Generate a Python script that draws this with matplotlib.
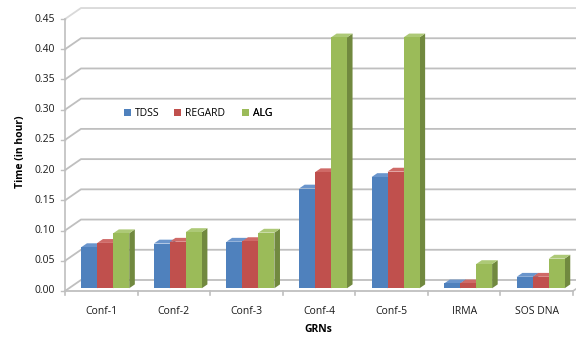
"""Run time per GRN configuration, drawn as Excel-style 3D clustered columns."""

import matplotlib

matplotlib.use("Agg")
import matplotlib.pyplot as plt
import numpy as np
from matplotlib.patches import Patch, Polygon

CATEGORIES = ["Conf-1", "Conf-2", "Conf-3", "Conf-4", "Conf-5", "IRMA", "SOS DNA"]
TDSS = [0.068, 0.074, 0.077, 0.165, 0.184, 0.008, 0.019]
REGARD = [0.075, 0.077, 0.078, 0.192, 0.193, 0.008, 0.019]
ALG = [0.091, 0.093, 0.092, 0.415, 0.415, 0.040, 0.049]
Y_TICKS = [0.00, 0.05, 0.10, 0.15, 0.20, 0.25, 0.30, 0.35, 0.40, 0.45]

SERIES = [
    ("TDSS", TDSS, "#4f81bd", "#6a95cc", "#385d8a"),
    ("REGARD", REGARD, "#c0504d", "#cf6a67", "#8c3836"),
    ("ALG", ALG, "#9bbb59", "#adc977", "#71893f"),
]
# left edge of each legend entry, in axes fraction
LEGEND_X = [0.1324, 0.2284, 0.359]

FONT = "Open Sans"
FS = 7.5

# oblique projection: a point at depth d (0 front .. 1 back) shifts by d*(DX, DY)
DX = 0.22
DY = 0.0182
BAR_FRONT = 0.25
BAR_BACK = 0.6
BAR_W = 0.22
GRID = "#bfbfbf"


def proj(x, y, d):
    return (x + d * DX, y + d * DY)


fig = plt.figure(figsize=(5.76, 3.37), dpi=100)
ax = fig.add_axes([55 / 576, 37 / 337, 521 / 576, 295 / 337])
ax.set_xlim(-0.638, 6.541)
ax.set_ylim(-0.0149, 0.4732)
ax.axis("off")

n = len(CATEGORIES)
x_left, x_right = -0.5, n - 0.5

# walls: gridlines run across the side wall then along the back wall
for v in Y_TICKS:
    color = "#d9d9d9" if v == Y_TICKS[-1] else GRID
    pts = [proj(x_left, v, 0), proj(x_left, v, 1), proj(x_right + 0.3, v, 1)]
    ax.plot(*zip(*pts), color=color, lw=1.3, clip_on=False, zorder=1)
    ax.plot([x_left - 0.05, x_left], [v, v], color=GRID, lw=1.0, zorder=1)
    ax.text(x_left - 0.14, v, f"{v:.2f}", ha="right", va="center",
            fontsize=FS, family=FONT, color="#1a1a1a")

# side wall front edge and floor
ax.plot([x_left, x_left], [0, Y_TICKS[-1]], color=GRID, lw=1.2, zorder=1)
ax.plot([x_left, x_right], [0, 0], color=GRID, lw=1.3, zorder=1)
ax.plot(*zip(proj(x_right, 0, 0), proj(x_right, 0, 1)), color=GRID, lw=1.2,
        clip_on=False, zorder=1)
for b in np.arange(n + 1) - 0.5:
    ax.plot([b, b], [0, -0.0066], color=GRID, lw=1.2, zorder=1)

x = np.arange(n)
offsets = [-BAR_W, 0.0, BAR_W]
z = 2
for (name, vals, front, top, side), off in zip(SERIES, offsets):
    xs = x + off + BAR_FRONT * DX
    ax.bar(xs, vals, BAR_W, bottom=BAR_FRONT * DY, color=front, lw=0, zorder=z + 2)
    for xc, v in zip(x + off, vals):
        xl, xr = xc - BAR_W / 2, xc + BAR_W / 2
        side_poly = [proj(xr, 0, BAR_FRONT), proj(xr, v, BAR_FRONT),
                     proj(xr, v, BAR_BACK), proj(xr, 0, BAR_BACK)]
        top_poly = [proj(xl, v, BAR_FRONT), proj(xr, v, BAR_FRONT),
                    proj(xr, v, BAR_BACK), proj(xl, v, BAR_BACK)]
        ax.add_patch(Polygon(side_poly, closed=True, facecolor=side, lw=0, zorder=z))
        ax.add_patch(Polygon(top_poly, closed=True, facecolor=top, lw=0, zorder=z + 1))
    z += 3

for i, label in enumerate(CATEGORIES):
    ax.text(i, -0.0347, label, ha="center", va="center", fontsize=FS,
            family=FONT, color="#1a1a1a")

# one legend per entry so each can sit at its own spot
for (name, _, front, _, _), lx in zip(SERIES, LEGEND_X):
    leg = ax.legend(handles=[Patch(facecolor=front, edgecolor="none", label=name)],
                    loc="center left", bbox_to_anchor=(lx, 0.632), frameon=False,
                    borderpad=0, borderaxespad=0, handlelength=0.65,
                    handleheight=0.65, handletextpad=0.4,
                    prop={"family": FONT, "size": FS})
    ax.add_artist(leg)

fig.text(20 / 576, 1 - 152 / 337, "Time (in hour)", rotation=90, ha="center",
         va="center", fontsize=FS, family=FONT, fontweight="bold")
fig.text(318 / 576, 1 - 329 / 337, "GRNs", ha="center", va="center",
         fontsize=FS, family=FONT, fontweight="bold")

fig.savefig("out.png", dpi=100)
